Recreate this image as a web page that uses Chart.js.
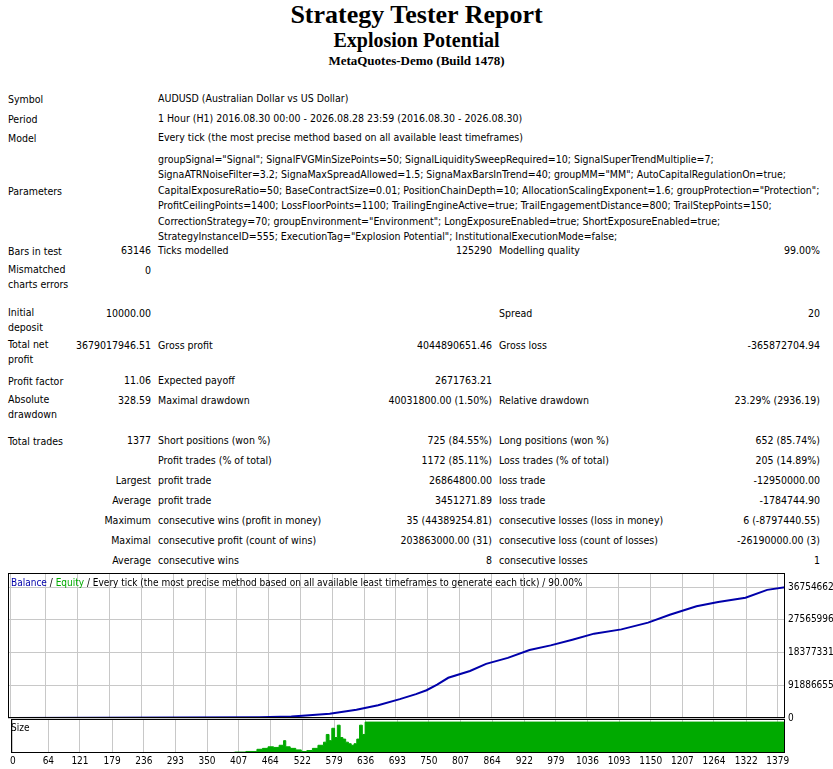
<!DOCTYPE html>
<html>
<head>
<meta charset="utf-8">
<script src="https://cdn.jsdelivr.net/npm/chart.js@4"></script>
<style>
body { margin:0; background:#fff; font-family:"DejaVu Sans Condensed","DejaVu Sans",sans-serif; font-size:10.5px; color:#000; }
.t { position:absolute; white-space:nowrap; }
.r { text-align:right; }
.h { position:absolute; left:0; width:833px; text-align:center; font-family:"Liberation Serif",serif; font-weight:bold; }
#params { position:absolute; left:158px; top:152px; line-height:15.4px; white-space:nowrap; }
</style>
</head>
<body>
<div class="h" style="top:0;font-size:26px">Strategy Tester Report</div>
<div class="h" style="top:29px;font-size:20px">Explosion Potential</div>
<div class="h" style="top:53px;font-size:13px">MetaQuotes-Demo (Build 1478)</div>

<div id="report"></div>
<div id="params">groupSignal="Signal"; SignalFVGMinSizePoints=50; SignalLiquiditySweepRequired=10; SignalSuperTrendMultiplie=7;<br>SignaATRNoiseFilter=3.2; SignaMaxSpreadAllowed=1.5; SignaMaxBarsInTrend=40; groupMM="MM"; AutoCapitalRegulationOn=true;<br>CapitalExposureRatio=50; BaseContractSize=0.01; PositionChainDepth=10; AllocationScalingExponent=1.6; groupProtection="Protection";<br>ProfitCeilingPoints=1400; LossFloorPoints=1100; TrailingEngineActive=true; TrailEngagementDistance=800; TrailStepPoints=150;<br>CorrectionStrategy=70; groupEnvironment="Environment"; LongExposureEnabled=true; ShortExposureEnabled=true;<br>StrategyInstanceID=555; ExecutionTag="Explosion Potential"; InstitutionalExecutionMode=false;</div>

<div style="position:absolute;left:8px;top:564px;width:825px;height:163px"><canvas id="main"></canvas></div>
<div class="t" style="left:11px;top:577px;font-size:10px"><span style="color:#0000aa">Balance</span> / <span style="color:#00aa00">Equity</span> / Every tick (the most precise method based on all available least timeframes to generate each tick) / 90.00%</div>
<div style="position:absolute;left:8px;top:718px;width:825px;height:51px"><canvas id="size"></canvas></div>
<div class="t" style="left:11px;top:722px;font-size:10px">Size</div>

<script>
// ======================
// DATA
// ======================
const tradeTicks = [0, 64, 121, 179, 236, 293, 350, 407, 464, 522, 579, 636, 693, 750, 807, 864, 922, 979, 1036, 1093, 1150, 1207, 1264, 1322, 1379];
const balanceTicks = [0, 9188665.5, 18377331, 27565996, 36754662];
const balanceTickLabels = ["0", "91886655", "18377331", "27565996", "36754662"];

const balanceTrade = [0, 447, 505, 525, 574, 622, 661, 700, 729, 748, 767, 787, 826, 855, 894, 933, 971, 1010, 1049, 1098, 1146, 1185, 1233, 1272, 1321, 1360, 1392];
const balanceValue = [10000, 200000, 400000, 600000, 1200000, 2300000, 3600000, 5300000, 6700000, 7800000, 9400000, 11300000, 13200000, 15200000, 16900000, 19100000, 20400000, 22000000, 23700000, 24900000, 26800000, 29000000, 31400000, 32600000, 33800000, 36000000, 36754662];

const sizeTrade = [0, 398, 400, 420, 440, 450, 460, 470, 480, 488, 492, 500, 510, 520, 530, 540, 550, 560, 565, 570, 575, 580, 585, 590, 595, 600, 605, 610, 615, 620, 625, 630, 635, 640, 1392];
const sizeValue = [0, 0.02, 0.03, 0.05, 0.12, 0.15, 0.2, 0.18, 0.25, 0.4, 0.2, 0.15, 0.1, 0.05, 0.08, 0.15, 0.25, 0.35, 0.6, 0.4, 0.8, 0.5, 0.9, 0.5, 0.45, 0.35, 0.3, 0.25, 0.3, 0.45, 0.9, 0.6, 1.0, 1.0, 1.0];

// ======================
// REPORT ROWS
// ======================
const rows = [
    [98, "Symbol", null, "AUDUSD (Australian Dollar vs US Dollar)"],
    [118, "Period", null, "1 Hour (H1) 2016.08.30 00:00 - 2026.08.28 23:59 (2016.08.30 - 2026.08.30)"],
    [137, "Model", null, "Every tick (the most precise method based on all available least timeframes)"],
    [190, "Parameters"],
    [250, "Bars in test", "63146", "Ticks modelled", "125290", "Modelling quality", "99.00%"],
    [270, "Mismatched<br>charts errors", "0"],
    [313, "Initial<br>deposit", "10000.00", null, null, "Spread", "20"],
    [345, "Total net<br>profit", "3679017946.51", "Gross profit", "4044890651.46", "Gross loss", "-365872704.94"],
    [380, "Profit factor", "11.06", "Expected payoff", "2671763.21"],
    [400, "Absolute<br>drawdown", "328.59", "Maximal drawdown", "40031800.00 (1.50%)", "Relative drawdown", "23.29% (2936.19)"],
    [440, "Total trades", "1377", "Short positions (won %)", "725 (84.55%)", "Long positions (won %)", "652 (85.74%)"],
    [460, "", "", "Profit trades (% of total)", "1172 (85.11%)", "Loss trades (% of total)", "205 (14.89%)"],
    [480, "", "Largest", "profit trade", "26864800.00", "loss trade", "-12950000.00"],
    [500, "", "Average", "profit trade", "3451271.89", "loss trade", "-1784744.90"],
    [520, "", "Maximum", "consecutive wins (profit in money)", "35 (44389254.81)", "consecutive losses (loss in money)", "6 (-8797440.55)"],
    [540, "", "Maximal", "consecutive profit (count of wins)", "203863000.00 (31)", "consecutive loss (count of losses)", "-26190000.00 (3)"],
    [560, "", "Average", "consecutive wins", "8", "consecutive losses", "1"]
];

let html = "";
rows.forEach(r => {
    const y = r[0];
    const two = r[1] && r[1].includes("<br>");
    const top = two ? y - 8 : y - 6;
    if (r[1]) html += `<div class="t" style="left:8px;top:${top}px;line-height:15px">${r[1]}</div>`;
    if (r[2] === null) {
        if (r[3]) html += `<div class="t" style="left:158px;top:${y - 6}px">${r[3]}</div>`;
        return;
    }
    if (r[2]) html += `<div class="t r" style="right:${833 - 151}px;top:${y - 6}px">${r[2]}</div>`;
    if (r[3]) html += `<div class="t" style="left:158px;top:${y - 6}px">${r[3]}</div>`;
    if (r[4]) html += `<div class="t r" style="right:${833 - 492}px;top:${y - 6}px">${r[4]}</div>`;
    if (r[5]) html += `<div class="t" style="left:499px;top:${y - 6}px">${r[5]}</div>`;
    if (r[6]) html += `<div class="t r" style="right:${833 - 820}px;top:${y - 6}px">${r[6]}</div>`;
});
document.getElementById("report").innerHTML = html;

// ======================
// CHARTS
// ======================
const tickFont = { family: "DejaVu Sans Condensed", size: 10 };
const gridStyle = { color: "#c8c8c8", borderDash: [4, 3], drawTicks: false };

const boxPlugin = {
    id: "box",
    afterDraw(chart) {
        const a = chart.chartArea;
        const c = chart.ctx;
        c.save();
        c.strokeStyle = "#000";
        c.lineWidth = 1;
        c.strokeRect(Math.round(a.left) + 0.5, Math.round(a.top) + 0.5, Math.round(a.width) - 1, Math.round(a.height) - 1);
        c.restore();
    }
};

const xAxis = (show) => ({
    type: "linear",
    min: -4,
    max: 1392,
    afterBuildTicks: ax => { ax.ticks = tradeTicks.map(v => ({ value: v })); },
    grid: gridStyle,
    border: { display: false },
    ticks: { display: show, font: tickFont, color: "#000", maxRotation: 0, autoSkip: false, padding: 2, callback: v => String(v) }
});

new Chart(document.getElementById("main"), {
    type: "line",
    data: {
        datasets: [{
            data: balanceTrade.map((t, i) => ({ x: t, y: balanceValue[i] })),
            borderColor: "#0000aa",
            borderWidth: 2,
            pointRadius: 0,
            tension: 0
        }]
    },
    options: {
        responsive: true,
        maintainAspectRatio: false,
        animation: false,
        layout: { padding: 0 },
        plugins: { legend: { display: false }, tooltip: { enabled: false } },
        scales: {
            x: xAxis(false),
            y: {
                position: "right",
                min: 0,
                max: 40740000,
                afterBuildTicks: ax => { ax.ticks = balanceTicks.map(v => ({ value: v })); },
                afterFit: ax => { ax.width = 48; },
                grid: gridStyle,
                border: { display: false },
                ticks: {
                    font: tickFont, color: "#000", padding: 3,
                    callback: (v, i) => balanceTickLabels[i]
                }
            }
        }
    },
    plugins: [boxPlugin]
});

new Chart(document.getElementById("size"), {
    type: "line",
    data: {
        datasets: [{
            data: sizeTrade.map((t, i) => ({ x: t, y: sizeValue[i] })),
            borderColor: "#00aa00",
            backgroundColor: "#00aa00",
            borderWidth: 1,
            fill: "origin",
            stepped: true,
            pointRadius: 0
        }]
    },
    options: {
        responsive: true,
        maintainAspectRatio: false,
        animation: false,
        layout: { padding: { right: 48, top: 1 } },
        plugins: { legend: { display: false }, tooltip: { enabled: false } },
        scales: {
            x: xAxis(true),
            y: { display: false, min: 0, max: 1.1 }
        }
    },
    plugins: [boxPlugin]
});
</script>
</body>
</html>
